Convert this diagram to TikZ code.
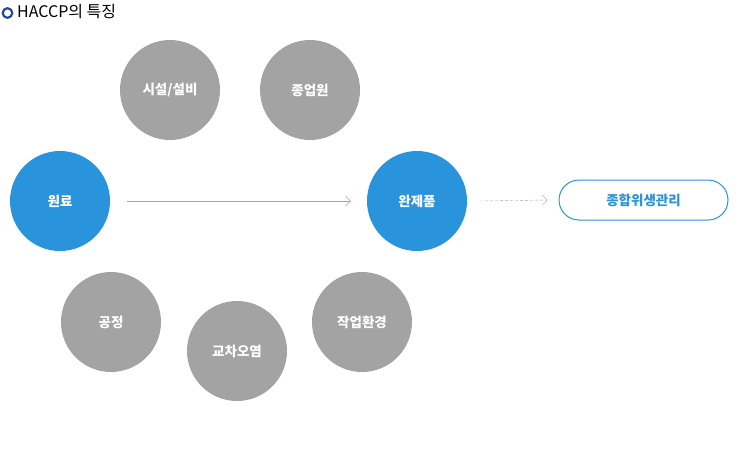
\documentclass[tikz,border=0pt]{standalone}
\usepackage{fontspec}
\setmainfont{Noto Sans CJK KR}
\usetikzlibrary{arrows.meta}
\definecolor{mainblue}{RGB}{41,148,219}
\definecolor{stepgray}{RGB}{163,163,163}
\definecolor{linegray}{RGB}{165,165,165}
\definecolor{titleblue}{RGB}{38,72,150}

\begin{document}
\begin{tikzpicture}[x=1pt,y=-1pt,>={Straight Barb[length=5pt,width=10pt]},line join=round,line cap=round,
  bluecircle/.style={circle,fill=mainblue,minimum size=100pt,inner sep=0pt,text=white,font=\fontsize{13.5}{15}\selectfont\bfseries},
  graycircle/.style={circle,fill=stepgray,minimum size=100pt,inner sep=0pt,text=white,font=\fontsize{13.5}{15}\selectfont\bfseries},
  resultbox/.style={draw=mainblue,line width=1pt,rounded corners=20pt,minimum width=169pt,minimum height=40pt,text=mainblue,font=\fontsize{13.5}{15}\selectfont\bfseries}]
\useasboundingbox (0,0) rectangle (738,450);
% title
\draw[titleblue,line width=2.2pt] (7.5,13) circle[radius=4.8];
\node[anchor=west,inner sep=0pt,font=\fontsize{16}{18}\selectfont] (title) at (17,12) {HACCP의 특징};
% circles
\node[bluecircle] (raw) at (60,201) {원료};
\node[bluecircle] (product) at (417,201) {완제품};
\node[graycircle] (facility) at (170,90) {시설/설비};
\node[graycircle] (worker) at (310,90) {종업원};
\node[graycircle] (process) at (111,322) {공정};
\node[graycircle] (cross) at (237,351) {교차오염};
\node[graycircle] (env) at (362,322) {작업환경};
\node[resultbox] (total) at (643.5,200) {종합위생관리};
% arrows
\draw[linegray,->] ([xshift=17pt]raw.east) -- ([xshift=-16pt]product.west);
\draw[linegray,dash pattern=on 3pt off 2pt,->] ([xshift=13pt]product.east) -- ([xshift=-11pt]total.west);
\end{tikzpicture}
\end{document}
